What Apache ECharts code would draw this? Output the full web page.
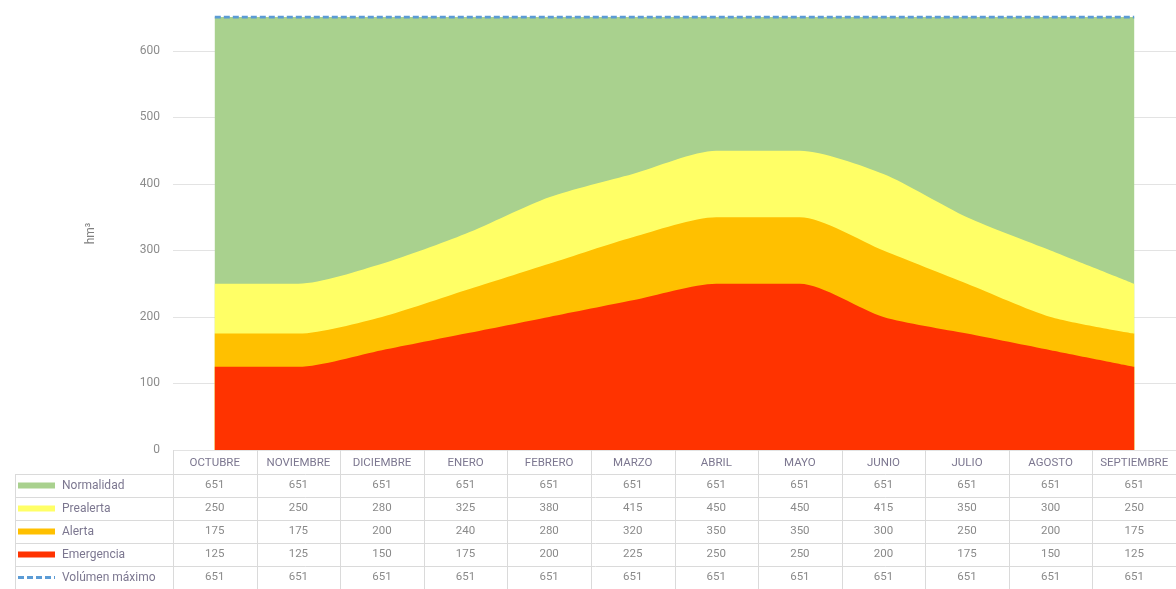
<!DOCTYPE html>
<html>
<head>
<meta charset="utf-8">
<script src="https://cdn.jsdelivr.net/npm/echarts@6/dist/echarts.min.js"></script>
<style>
  html, body { margin: 0; padding: 0; background: #ffffff; }
  #chart { width: 1176px; height: 589px; }
</style>
</head>
<body>
<div id="chart"></div>
<script>
// Meses del año hidrológico
const meses = ['OCTUBRE', 'NOVIEMBRE', 'DICIEMBRE', 'ENERO', 'FEBRERO', 'MARZO',
               'ABRIL', 'MAYO', 'JUNIO', 'JULIO', 'AGOSTO', 'SEPTIEMBRE'];

// Umbrales de volumen (hm³)
const normalidad    = [651, 651, 651, 651, 651, 651, 651, 651, 651, 651, 651, 651];
const prealerta     = [250, 250, 280, 325, 380, 415, 450, 450, 415, 350, 300, 250];
const alerta        = [175, 175, 200, 240, 280, 320, 350, 350, 300, 250, 200, 175];
const emergencia    = [125, 125, 150, 175, 200, 225, 250, 250, 200, 175, 150, 125];
const volumenMaximo = [651, 651, 651, 651, 651, 651, 651, 651, 651, 651, 651, 651];

const colores = {
  normalidad: '#A9D18E',
  prealerta: '#FFFF66',
  alerta: '#FFC000',
  emergencia: '#FF3300',
  maximo: '#5B9BD5'
};

const filas = [
  { nombre: 'Normalidad',     valores: normalidad,    color: colores.normalidad },
  { nombre: 'Prealerta',      valores: prealerta,     color: colores.prealerta },
  { nombre: 'Alerta',         valores: alerta,        color: colores.alerta },
  { nombre: 'Emergencia',     valores: emergencia,    color: colores.emergencia },
  { nombre: 'Volúmen máximo', valores: volumenMaximo, color: colores.maximo, discontinua: true }
];

const chart = echarts.init(document.getElementById('chart'), null, { renderer: 'canvas' });

function area(nombre, datos, color) {
  return {
    name: nombre,
    type: 'line',
    data: datos,
    smooth: 0.25,
    symbol: 'none',
    lineStyle: { width: 0 },
    itemStyle: { color: color },
    areaStyle: { color: color, opacity: 1 },
    silent: true
  };
}

chart.setOption({
  animation: false,
  backgroundColor: '#ffffff',
  grid: { left: 173, right: -3, top: 17, bottom: 139, containLabel: false },
  xAxis: {
    type: 'category',
    data: meses,
    boundaryGap: true,
    axisLine: { show: false },
    axisTick: { show: false },
    axisLabel: { show: false },
    splitLine: { show: false }
  },
  yAxis: {
    type: 'value',
    min: 0,
    max: 651,
    interval: 100,
    name: 'hm³',
    nameLocation: 'middle',
    nameRotate: 90,
    nameGap: 76,
    nameTextStyle: { color: '#7f7f7f', fontSize: 12, fontFamily: 'Roboto' },
    axisLine: { show: false },
    axisTick: { show: false },
    axisLabel: { color: '#8c8c8c', fontSize: 12, fontFamily: 'Roboto', margin: 13, showMaxLabel: false },
    splitLine: { showMaxLine: false, lineStyle: { color: '#e3e3e3', width: 1 } }
  },
  series: [
    area('Normalidad', normalidad, colores.normalidad),
    area('Prealerta', prealerta, colores.prealerta),
    area('Alerta', alerta, colores.alerta),
    area('Emergencia', emergencia, colores.emergencia),
    {
      name: 'Volúmen máximo',
      type: 'line',
      data: volumenMaximo,
      symbol: 'none',
      lineStyle: { color: colores.maximo, width: 3, type: [6, 3] },
      z: 5,
      silent: true
    }
  ]
});

// Tabla de datos bajo el gráfico, alineada con las categorías del eje
function dibujarTabla() {
  const xs = meses.map((m, i) => chart.convertToPixel({ xAxisIndex: 0 }, i));
  const ancho = xs[1] - xs[0];
  const izq = xs[0] - ancho / 2;
  const der = izq + ancho * meses.length;
  const y0 = chart.convertToPixel({ yAxisIndex: 0 }, 0);
  const altoCab = 24;
  const altoFila = 23;
  const yFilas = y0 + altoCab;
  const yFin = yFilas + altoFila * filas.length;
  const xLeyenda = 15;
  const lineCol = '#dadada';
  const fuente = 'Roboto';
  const els = [];

  // bordes verticales de columnas
  for (let k = 0; k <= meses.length; k++) {
    const x = Math.round(izq + ancho * k) + 0.5;
    els.push({ type: 'line', shape: { x1: x, y1: y0, x2: x, y2: yFin },
      style: { stroke: lineCol, lineWidth: 1 }, silent: true });
  }
  // borde izquierdo de la columna de leyenda
  els.push({ type: 'line', shape: { x1: xLeyenda + 0.5, y1: yFilas, x2: xLeyenda + 0.5, y2: yFin },
    style: { stroke: lineCol, lineWidth: 1 }, silent: true });
  // bordes horizontales
  for (let r = 0; r <= filas.length; r++) {
    const y = Math.round(yFilas + altoFila * r) + 0.5;
    els.push({ type: 'line', shape: { x1: xLeyenda, y1: y, x2: der, y2: y },
      style: { stroke: lineCol, lineWidth: 1 }, silent: true });
  }

  // cabecera con los meses
  meses.forEach((m, i) => {
    els.push({ type: 'text', x: xs[i], y: y0 + altoCab / 2 + 1, silent: true,
      style: { text: m, fill: '#7c7790', font: '11.5px ' + fuente, align: 'center', verticalAlign: 'middle' } });
  });

  // filas: símbolo de leyenda, nombre y valores
  filas.forEach((f, r) => {
    const yc = yFilas + altoFila * r + altoFila / 2;
    if (f.discontinua) {
      els.push({ type: 'line', shape: { x1: 18, y1: yc, x2: 55, y2: yc },
        style: { stroke: f.color, lineWidth: 3, lineDash: [6, 3] }, silent: true });
    } else {
      els.push({ type: 'rect', shape: { x: 18, y: yc - 3, width: 37, height: 6 },
        style: { fill: f.color }, silent: true });
    }
    els.push({ type: 'text', x: 62, y: yc, silent: true,
      style: { text: f.nombre, fill: '#7c7790', font: '12px ' + fuente, align: 'left', verticalAlign: 'middle' } });
    f.valores.forEach((v, i) => {
      els.push({ type: 'text', x: xs[i], y: yc, silent: true,
        style: { text: String(v), fill: '#8a8a8a', font: '11.5px ' + fuente, align: 'center', verticalAlign: 'middle' } });
    });
  });

  chart.setOption({ graphic: { elements: els } });
}

dibujarTabla();
</script>
</body>
</html>
